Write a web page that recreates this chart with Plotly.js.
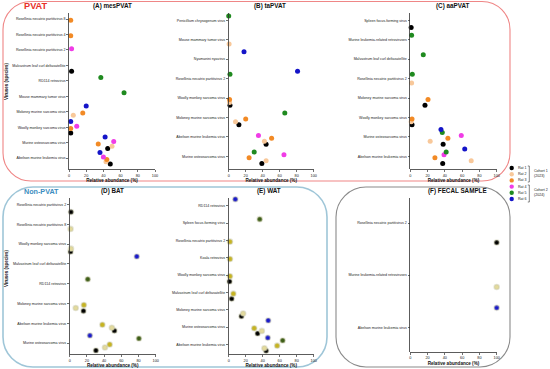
<!DOCTYPE html>
<html><head><meta charset="utf-8">
<script src="https://cdn.plot.ly/plotly-3.0.1.min.js"></script>
<style>html,body{margin:0;padding:0;background:#fff}</style>
</head><body><div id="chart" style="width:550px;height:369px"></div>
<script>
// ---------------- DATA ----------------
const ratLabels = ['Rat 1','Rat 2','Rat 3','Rat 4','Rat 5','Rat 6'];
const cohortLabels = ['Cohort 1<br>(2023)','Cohort 2<br>(2024)'];
const xTickVals = [0,20,40,60,80,100];

const catsA = ['Rosellinia necatrix partitivirus 8','Rosellinia necatrix partitivirus 4','Rosellinia necatrix partitivirus 2','Malvastrum leaf curl deltasatellite','RD114 retrovirus','Mouse mammary tumor virus','Moloney murine sarcoma virus','Woolly monkey sarcoma virus','Murine osteosarcoma virus','Abelson murine leukemia virus'];
const mesPVAT_rat1 = [null,null,null,3,null,null,null,2,45,48];
const mesPVAT_rat2 = [null,null,null,null,null,null,5,null,50,43];
const mesPVAT_rat3 = [2,2,null,null,null,null,16,2,34,44];
const mesPVAT_rat4 = [null,null,3,null,null,null,null,9,52,40];
const mesPVAT_rat5 = [null,null,null,null,37,64,null,null,null,null];
const mesPVAT_rat6 = [null,null,null,null,null,null,20,2,42,36];

const catsB = ['Penicillium chrysogenum virus','Mouse mammary tumor virus','Nyamanini nyavirus','Rosellinia necatrix partitivirus 2','Woolly monkey sarcoma virus','Moloney murine sarcoma virus','Abelson murine leukemia virus','Murine osteosarcoma virus'];
const taPVAT_rat1 = [null,null,null,null,1.5,12,44,39];
const taPVAT_rat2 = [null,0.5,null,null,1,8,42,44];
const taPVAT_rat3 = [null,null,null,null,1,20,50.5,24];
const taPVAT_rat4 = [null,null,null,null,null,null,35,65];
const taPVAT_rat5 = [0,null,null,1.5,null,66,null,30];
const taPVAT_rat6 = [null,null,18,81,null,null,null,null];

const catsC = ['Spleen focus-forming virus','Murine leukemia-related retroviruses','Malvastrum leaf curl deltasatellite','Rosellinia necatrix partitivirus 2','Moloney murine sarcoma virus','Woolly monkey sarcoma virus','Murine osteosarcoma virus','Abelson murine leukemia virus'];
const aaPVAT_rat1 = [1,null,null,null,17,2,38,37.5];
const aaPVAT_rat2 = [null,null,null,1.5,null,1,23,70.5];
const aaPVAT_rat3 = [null,null,null,null,20.5,2,43.5,28.5];
const aaPVAT_rat4 = [null,null,null,null,null,null,59,39];
const aaPVAT_rat5 = [null,1.5,15,2.3,null,null,37,41.5];
const aaPVAT_rat6 = [null,null,null,null,null,null,35.5,63];

const catsD = ['Rosellinia necatrix partitivirus 2','Rosellinia necatrix partitivirus 8','Woolly monkey sarcoma virus','Malvastrum leaf curl deltasatellite','RD114 retrovirus','Moloney murine sarcoma virus','Abelson murine leukemia virus','Murine osteosarcoma virus'];
const BAT_rat1 = [1.5,null,1,null,null,16,52,30.5];
const BAT_rat2 = [null,1,1.5,null,null,7,49,41];
const BAT_rat3 = [null,null,null,null,null,16.5,38,46.5];
const BAT_rat5 = [null,null,null,null,21,null,null,80.5];
const BAT_rat6 = [null,null,null,78,null,null,null,23.5];

const catsE = ['RD114 retrovirus','Spleen focus-forming virus','Rosellinia necatrix partitivirus 2','Koala retrovirus','Woolly monkey sarcoma virus','Malvastrum leaf curl deltasatellite','Moloney murine sarcoma virus','Murine osteosarcoma virus','Abelson murine leukemia virus'];
const WAT_rat1 = [null,null,null,null,1,3.5,15,34,44];
const WAT_rat2 = [null,null,null,null,null,null,17,39,42];
const WAT_rat3 = [null,null,1.5,1.5,1.5,5.5,null,30,57];
const WAT_rat5 = [null,36.5,null,null,null,null,null,null,63.5];
const WAT_rat6 = [7.8,null,null,null,null,null,null,46.5,46];

const catsF = ['Rosellinia necatrix partitivirus 2','Murine leukemia-related retroviruses','Abelson murine leukemia virus'];
const fecal_rat1 = [100,null,null];
const fecal_rat2 = [null,100,null];
const fecal_rat6 = [null,null,100];

// ---------------- STYLE / LAYOUT ----------------
const W = 550, H = 369;
const FONT = 'Liberation Sans, Arial, sans-serif';
const pvatColors = ['#000000','#f8c89a','#f28a25','#f03ce6','#1f8a1f','#1414c8'];
const nonColors  = ['#000000','#e3da9c','#c7b41f','#f03ce6','#3d5e18','#1a1acc'];
const px = v => v / W;
const py = v => 1 - v / H;
const ratOffset = r => (3.5 - r) * 0.15; // vertical dodge within a category

const panels = [
  {title:'(A) mesPVAT', cats:catsA, series:[mesPVAT_rat1,mesPVAT_rat2,mesPVAT_rat3,mesPVAT_rat4,mesPVAT_rat5,mesPVAT_rat6], colors:pvatColors, halo:false,
   x0:69, x1:155, top:13.3, bot:169.3, firstTick:19, step:15.47, tx:112, ty:6},
  {title:'(B) taPVAT', cats:catsB, series:[taPVAT_rat1,taPVAT_rat2,taPVAT_rat3,taPVAT_rat4,taPVAT_rat5,taPVAT_rat6], colors:pvatColors, halo:false,
   x0:228.7, x1:313.7, top:13.3, bot:169.3, firstTick:20.3, step:19.43, tx:270, ty:6},
  {title:'(C) aaPVAT', cats:catsC, series:[aaPVAT_rat1,aaPVAT_rat2,aaPVAT_rat3,aaPVAT_rat4,aaPVAT_rat5,aaPVAT_rat6], colors:pvatColors, halo:false,
   x0:410.3, x1:496.7, top:13.3, bot:169.3, firstTick:20.3, step:19.43, tx:453, ty:6},
  {title:'(D) BAT', cats:catsD, series:[BAT_rat1,BAT_rat2,BAT_rat3,null,BAT_rat5,BAT_rat6], colors:nonColors, halo:true,
   x0:69.7, x1:155.7, top:197.7, bot:354.3, firstTick:204.7, step:19.76, tx:112, ty:191},
  {title:'(E) WAT', cats:catsE, series:[WAT_rat1,WAT_rat2,WAT_rat3,null,WAT_rat5,WAT_rat6], colors:nonColors, halo:true,
   x0:228.7, x1:313.7, top:197.7, bot:354.3, firstTick:205.7, step:17.33, tx:269, ty:191},
  {title:'(F) FECAL SAMPLE', cats:catsF, series:[fecal_rat1,fecal_rat2,null,null,null,fecal_rat6], colors:nonColors, halo:true,
   x0:410.3, x1:496.7, top:197.7, bot:351.7, firstTick:223, step:52.2, tx:457, ty:191}
];

const traces = [];
const layout = {
  width: W, height: H, margin:{l:0,r:0,t:0,b:0},
  paper_bgcolor:'#fff', plot_bgcolor:'rgba(0,0,0,0)',
  showlegend:false, font:{family:FONT, color:'#222'},
  annotations:[], shapes:[]
};

panels.forEach((p, k) => {
  const n = k + 1;
  const xa = 'xaxis' + (n === 1 ? '' : n), ya = 'yaxis' + (n === 1 ? '' : n);
  const xr = 'x' + (n === 1 ? '' : n), yr = 'y' + (n === 1 ? '' : n);
  layout[xa] = {
    domain:[px(p.x0), px(p.x1)], anchor:yr, range:[0,100], tickvals:xTickVals,
    ticks:'outside', ticklen:2, tickwidth:0.7, tickcolor:'#333',
    showline:true, linecolor:'#333', linewidth:0.8, showgrid:false, zeroline:false,
    tickfont:{size:3.8, family:FONT, color:'#222'},
    title:{text:'Relative abundance (%)', font:{size:4.6, family:FONT, weight:'bold', color:'#111'}, standoff:2},
    fixedrange:true
  };
  const rTop = (p.top - p.firstTick) / p.step, rBot = (p.bot - p.firstTick) / p.step;
  layout[ya] = {
    domain:[py(p.bot), py(p.top)], anchor:xr, range:[rBot, rTop],
    tickvals:p.cats.map((c,i)=>i), ticktext:p.cats,
    ticks:'outside', ticklen:2, tickwidth:0.7, tickcolor:'#333',
    showline:true, linecolor:'#333', linewidth:0.8, showgrid:false, zeroline:false,
    tickfont:{size:3.6, family:FONT, color:'#222'}, fixedrange:true
  };
  p.series.forEach((vals, r) => {
    if (!vals) return;
    const xs = [], ys = [];
    vals.forEach((v, i) => { if (v !== null) { xs.push(v); ys.push(i + ratOffset(r + 1)); } });
    const col = p.colors[r];
    traces.push({
      type:'scatter', mode:'markers', x:xs, y:ys, xaxis:xr, yaxis:yr,
      name:ratLabels[r], cliponaxis:false,
      marker:{size:5, color:col,
        line: p.halo ? {width:1.6, color:'rgba(200,200,170,0.45)'} : {width:0}}
    });
  });
  layout.annotations.push({xref:'paper', yref:'paper', x:px(p.tx), y:py(p.ty), text:p.title, showarrow:false,
    xanchor:'center', yanchor:'middle', font:{size:6.3, family:FONT, weight:'bold', color:'#111'}});
});

// y-axis titles
[[6, 82],[6, 269]].forEach(([xx, yy]) => {
  layout.annotations.push({xref:'paper', yref:'paper', x:px(xx), y:py(yy), text:'Viruses (species)', textangle:-90,
    showarrow:false, xanchor:'center', yanchor:'middle', font:{size:4.5, family:FONT, weight:'bold', color:'#111'}});
});

// group labels
layout.annotations.push({xref:'paper', yref:'paper', x:px(21.5), y:py(6), text:'PVAT', showarrow:false,
  xanchor:'left', yanchor:'middle', font:{size:9.2, family:FONT, weight:'bold', color:'#e8302a'}});
layout.annotations.push({xref:'paper', yref:'paper', x:px(21.5), y:py(191), text:'Non-PVAT', showarrow:false,
  xanchor:'left', yanchor:'middle', font:{size:7.2, family:FONT, weight:'bold', color:'#3b8dc0'}});

// rounded boxes
function roundRect(x0, y0, x1, y1, r) {
  const k = 0.5523 * r;
  const P = (x, y) => px(x).toFixed(5) + ',' + py(y).toFixed(5);
  return 'M' + P(x0 + r, y0) + ' L' + P(x1 - r, y0) +
    ' C' + P(x1 - r + k, y0) + ' ' + P(x1, y0 + r - k) + ' ' + P(x1, y0 + r) +
    ' L' + P(x1, y1 - r) +
    ' C' + P(x1, y1 - r + k) + ' ' + P(x1 - r + k, y1) + ' ' + P(x1 - r, y1) +
    ' L' + P(x0 + r, y1) +
    ' C' + P(x0 + r - k, y1) + ' ' + P(x0, y1 - r + k) + ' ' + P(x0, y1 - r) +
    ' L' + P(x0, y0 + r) +
    ' C' + P(x0, y0 + r - k) + ' ' + P(x0 + r - k, y0) + ' ' + P(x0 + r, y0) + ' Z';
}
layout.shapes.push({type:'path', xref:'paper', yref:'paper', path:roundRect(3, 1.5, 510, 181, 28), line:{color:'#ef8686', width:1.1}, layer:'below'});
layout.shapes.push({type:'path', xref:'paper', yref:'paper', path:roundRect(3, 187, 327, 367, 30), line:{color:'#9fc6d8', width:1.6}, layer:'below'});
layout.shapes.push({type:'path', xref:'paper', yref:'paper', path:roundRect(336, 187, 510, 367, 30), line:{color:'#8a8a8a', width:1.1}, layer:'below'});

// manual legend
const legY = [168, 174.2, 180.4, 186.6, 192.8, 199];
ratLabels.forEach((lab, i) => {
  const cx = 511.7, cy = legY[i], rr = 2.2;
  layout.shapes.push({type:'circle', xref:'paper', yref:'paper', x0:px(cx-rr), x1:px(cx+rr), y0:py(cy+rr), y1:py(cy-rr),
    fillcolor:pvatColors[i], line:{width:0}});
  layout.annotations.push({xref:'paper', yref:'paper', x:px(516), y:py(cy), text:lab, showarrow:false,
    xanchor:'left', yanchor:'middle', font:{size:3.6, family:FONT, color:'#222'}});
});
[[166, 182, 0],[185, 202, 1]].forEach(([a, b, j]) => {
  const bx = 529.3;
  layout.shapes.push({type:'path', xref:'paper', yref:'paper',
    path:'M' + px(bx-1.5) + ',' + py(a) + ' L' + px(bx) + ',' + py(a) + ' L' + px(bx) + ',' + py(b) + ' L' + px(bx-1.5) + ',' + py(b),
    line:{color:'#333', width:0.6}});
  layout.annotations.push({xref:'paper', yref:'paper', x:px(531.5), y:py((a+b)/2 - 1), text:cohortLabels[j], showarrow:false,
    xanchor:'left', yanchor:'middle', align:'left', font:{size:3.6, family:FONT, color:'#222'}});
});

Plotly.newPlot('chart', traces, layout, {staticPlot:true, displayModeBar:false});
</script>
</body></html>
